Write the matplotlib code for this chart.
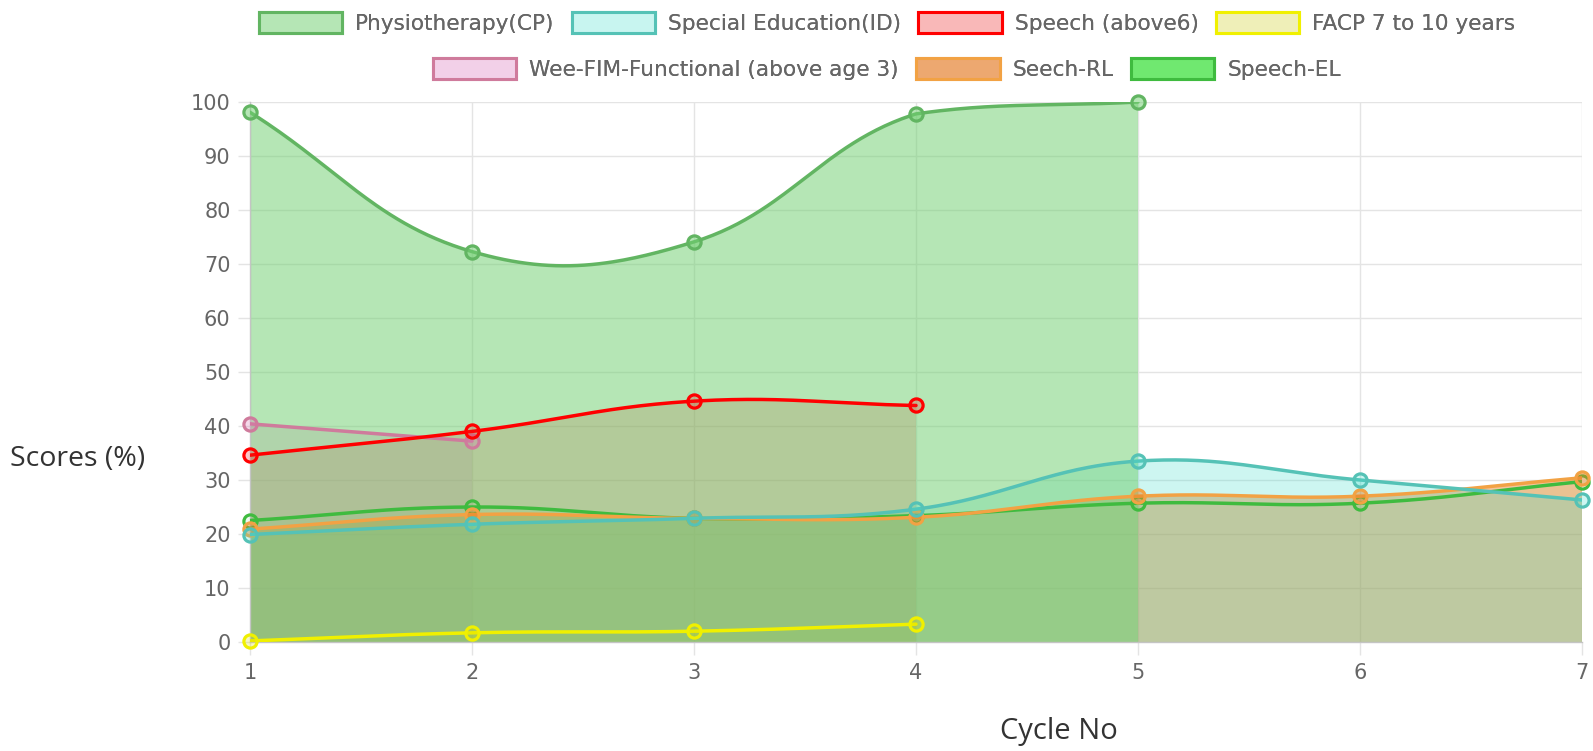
import numpy as np
import matplotlib
matplotlib.use("Agg")
import matplotlib.pyplot as plt
from matplotlib.patches import Patch

# ---------------- data ----------------
cycles = [1, 2, 3, 4, 5, 6, 7]
x_ticks = [1, 2, 3, 4, 5, 6, 7]
y_ticks = [0, 10, 20, 30, 40, 50, 60, 70, 80, 90, 100]

physio = [98.1, 72.3, 74.1, 97.8, 100.0]
special_ed = [19.9, 21.8, 22.9, 24.6, 33.5, 30.0, 26.3]
speech6 = [34.6, 39.0, 44.6, 43.8]
facp = [0.2, 1.7, 2.0, 3.3]
weefim = [40.4, 37.2]
seech_rl = [20.9, 23.6, 22.9, 23.1, 27.0, 27.0, 30.4]
speech_el = [22.5, 25.0, 22.9, 23.4, 25.7, 25.7, 29.7]

labels = ["Physiotherapy(CP)", "Special Education(ID)", "Speech (above6)",
          "FACP 7 to 10 years", "Wee-FIM-Functional (above age 3)",
          "Seech-RL", "Speech-EL"]
series = [physio, special_ed, speech6, facp, weefim, seech_rl, speech_el]

line_colors = ["#62b562", "#55c2b6", "#ff0000", "#f0f000", "#cf7b9c", "#f2a244", "#3fbb3f"]
fill_rgba = [(115/255, 208/255, 115/255, 0.53),
             (72/255, 222/255, 205/255, 0.27),
             (245/255, 30/255, 30/255, 0.25),
             (220/255, 220/255, 0/255, 0.25),
             (220/255, 120/255, 180/255, 0.28),
             (230/255, 126/255, 34/255, 0.45),
             (60/255, 200/255, 60/255, 0.08)]
legend_face = ["#b5e6b5", "#c8f5f0", "#f9b8b8", "#efefb8", "#f2d0e8", "#eda870", "#70e870"]

# drawing order of the fills (bottom -> top)
fill_order = [2, 4, 3, 6, 5, 1, 0]
line_order = [6, 5, 4, 3, 2, 1, 0]

# ---------------- figure ----------------
W, H = 1593, 751
fig = plt.figure(figsize=(W / 100, H / 100), dpi=100)
ax = fig.add_axes([250 / W, 1 - 642 / H, (1582 - 250) / W, (642 - 102) / H])
ax.set_xlim(1, 7)
ax.set_ylim(0, 100)
ax.set_xticks(x_ticks)
ax.set_yticks(y_ticks)
ax.grid(True, color="#e4e4e4", lw=1, zorder=0)
ax.set_axisbelow(True)
for s in ["top", "right"]:
    ax.spines[s].set_visible(False)
for s in ["left", "bottom"]:
    ax.spines[s].set_color("#c4c4c4")
    ax.spines[s].set_linewidth(1)
ax.tick_params(axis="both", length=9, width=1, color="#e4e4e4",
               labelcolor="#666666", labelsize=15)
ax.tick_params(axis="y", pad=5)
ax.tick_params(axis="x", pad=6)
for lab in ax.get_xticklabels() + ax.get_yticklabels():
    lab.set_fontfamily("DejaVu Sans")


def smooth(xs, ys, tension=0.4, n=60):
    pts = ax.transData.transform(np.column_stack([xs, ys]).astype(float))
    bb = ax.bbox
    m = len(pts)
    cprev = np.zeros_like(pts)
    cnext = np.zeros_like(pts)
    for i in range(m):
        p = pts[i]
        pr = pts[i - 1] if i > 0 else p
        nx = pts[i + 1] if i < m - 1 else p
        d01 = np.hypot(*(p - pr))
        d12 = np.hypot(*(nx - p))
        tot = d01 + d12
        s01 = d01 / tot if tot > 0 else 0
        s12 = d12 / tot if tot > 0 else 0
        cprev[i] = p - tension * s01 * (nx - pr)
        cnext[i] = p + tension * s12 * (nx - pr)
    for c in (cprev, cnext):
        c[:, 0] = np.clip(c[:, 0], bb.x0, bb.x1)
        c[:, 1] = np.clip(c[:, 1], bb.y0, bb.y1)
    out = [pts[0]]
    t = np.linspace(0, 1, n)[1:, None]
    for i in range(m - 1):
        p0, p1, p2, p3 = pts[i], cnext[i], cprev[i + 1], pts[i + 1]
        seg = ((1 - t) ** 3) * p0 + 3 * ((1 - t) ** 2) * t * p1 + 3 * (1 - t) * t ** 2 * p2 + t ** 3 * p3
        out.extend(seg)
    out = np.array(out)
    data = ax.transData.inverted().transform(out)
    return data[:, 0], data[:, 1]


for k, i in enumerate(fill_order):
    ys = series[i]
    xs = cycles[:len(ys)]
    sx, sy = smooth(xs, ys)
    px = np.concatenate([sx, [sx[-1], sx[0]]])
    py = np.concatenate([sy, [0, 0]])
    ax.fill(px, py, color=fill_rgba[i], lw=0, zorder=1 + k * 0.1)

for k, i in enumerate(line_order):
    ys = series[i]
    xs = cycles[:len(ys)]
    sx, sy = smooth(xs, ys)
    ax.plot(sx, sy, color=line_colors[i], lw=2.5, zorder=3 + k * 0.1,
            solid_capstyle="round")
    ax.plot(xs, ys, ls="none", marker="o", ms=9.5, mew=2.3,
            mec=line_colors[i], mfc=fill_rgba[i], zorder=3.05 + k * 0.1,
            clip_on=False)

# ---------------- legend (two centred rows) ----------------
handles = [Patch(facecolor=legend_face[i], edgecolor=line_colors[i], linewidth=2.2)
           for i in range(len(labels))]
rows = [[0, 1, 2, 3], [4, 5, 6]]
ys_leg = [1 - 23 / H, 1 - 69 / H]
for r, yl in zip(rows, ys_leg):
    leg = fig.legend([handles[i] for i in r], [labels[i] for i in r],
                     loc="center", bbox_to_anchor=(887 / W, yl), ncol=len(r),
                     frameon=False, handlelength=3.85, handleheight=1.1,
                     handletextpad=0.6, columnspacing=0.8,
                     prop={"family": "DejaVu Sans", "size": 15.6})
    for txt in leg.get_texts():
        txt.set_color("#666666")
    fig.add_artist(leg)

# ---------------- axis titles ----------------
fig.text(10 / W, 1 - 459 / H, "Scores (%)", ha="left", va="center",
         fontsize=20.5, color="#333333", family="Open Sans")
fig.text(1059 / W, 1 - 731 / H, "Cycle No", ha="center", va="center",
         fontsize=21, color="#333333", family="Open Sans")

fig.savefig("out.png", dpi=100)
